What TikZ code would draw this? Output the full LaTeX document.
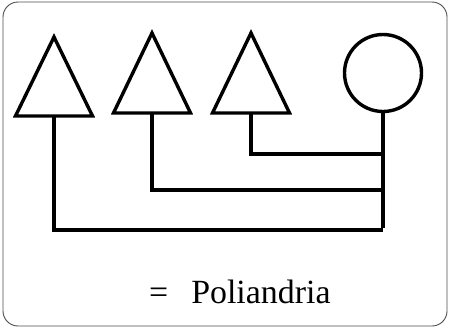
\documentclass[tikz,border=0pt]{standalone}
\usepackage{fontspec}
\setmainfont{Liberation Serif}
\usepackage{tikz}
\usetikzlibrary{positioning,calc}

\tikzset{
  frame/.style={draw=black!70,line width=0.9bp,rounded corners=15bp},
  line/.style={draw,line width=3.4bp},
  female/.style={circle,draw,line width=3.4bp,minimum size=77bp,inner sep=0pt}
}

\begin{document}
\begin{tikzpicture}[x=1bp,y=-1bp]
\useasboundingbox (0,0) rectangle (449,328);
\draw[frame] (3,2) rectangle (447,326);
% males
\foreach \x/\yt/\yb/\n in {54/37/116/a,152/33/113/b,251/33/113/c}{
  \draw[line] (\x,\yt) -- (\x+38.5,\yb) -- (\x-38.5,\yb) -- cycle;
  \coordinate (t\n) at (\x,\yb);
}
% female
\node[female] (f) at (383,73) {};
\coordinate (ja) at (383,230);
\coordinate (jb) at (383,190);
\coordinate (jc) at (383,154);
\draw[line] (ta) |- (ja);
\draw[line] (tb) |- (jb);
\draw[line] (tc) |- (jc);
\draw[line] (f.south) -- ([yshift=1.7bp]ja);
\node[anchor=base west,inner sep=0pt,font=\fontsize{34}{40}\selectfont] (lbl) at (149,303) {=\hspace{23bp}Poliandria};
\end{tikzpicture}
\end{document}
